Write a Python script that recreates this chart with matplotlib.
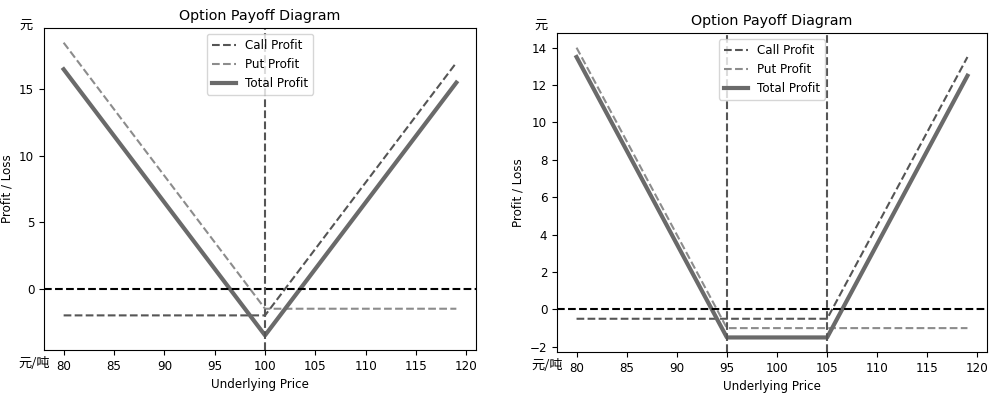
import numpy as np
import matplotlib
matplotlib.use("Agg")
from matplotlib import pyplot as plt

plt.rcParams['font.family'] = ['DejaVu Sans', 'Noto Sans CJK SC']
plt.rcParams['font.size'] = 8.6

# underlying prices
prices = list(range(80, 120))

# left panel: straddle at 100
strike_l = [100]
call_strike_l = 100
call_premium_l = 2.0
put_strike_l = 100
put_premium_l = 1.5

# right panel: strangle 95 / 105
strike_r = [95, 105]
call_strike_r = 105
call_premium_r = 0.5
put_strike_r = 95
put_premium_r = 1.0


def payoff(s, k_call, p_call, k_put, p_put):
    s = np.array(s)
    call = np.maximum(s - k_call, 0) - p_call
    put = np.maximum(k_put - s, 0) - p_put
    return call, put, call + put


def draw(ax, strikes, k_call, p_call, k_put, p_put, yuan_pos, unit_pos):
    call, put, total = payoff(prices, k_call, p_call, k_put, p_put)
    ax.plot(prices, call, '--', color='#555555', lw=1.5, label='Call Profit')
    ax.plot(prices, put, '--', color='#8c8c8c', lw=1.5, label='Put Profit')
    ax.plot(prices, total, '-', color='#6a6a6a', lw=3, label='Total Profit')
    ax.axhline(0, color='black', ls='--', lw=1.5)
    for k in strikes:
        ax.axvline(k, color='#555555', ls='--', lw=1.5)
    ax.set_title('Option Payoff Diagram', fontsize=10.3)
    ax.set_xlabel('Underlying Price')
    ax.set_ylabel('Profit / Loss')
    ax.legend(loc='upper center')
    ax.text(yuan_pos[0], yuan_pos[1], '元', transform=ax.transAxes, ha='center', va='center',
            family=['Noto Sans CJK SC'], fontsize=9.5)
    ax.text(unit_pos[0], unit_pos[1], '元/吨', transform=ax.transAxes, ha='center', va='center',
            family=['Noto Sans CJK SC'], fontsize=9.5)


fig = plt.figure(figsize=(10, 3.95), dpi=100)
ax1 = fig.add_axes([0.044, 0.114, 0.432, 0.815])
ax2 = fig.add_axes([0.557, 0.109, 0.430, 0.807])
draw(ax1, strike_l, call_strike_l, call_premium_l, put_strike_l, put_premium_l,
     (-0.042, 1.009), (-0.023, -0.043))
draw(ax2, strike_r, call_strike_r, call_premium_r, put_strike_r, put_premium_r,
     (-0.037, 1.025), (-0.023, -0.044))
fig.savefig('out.png')
